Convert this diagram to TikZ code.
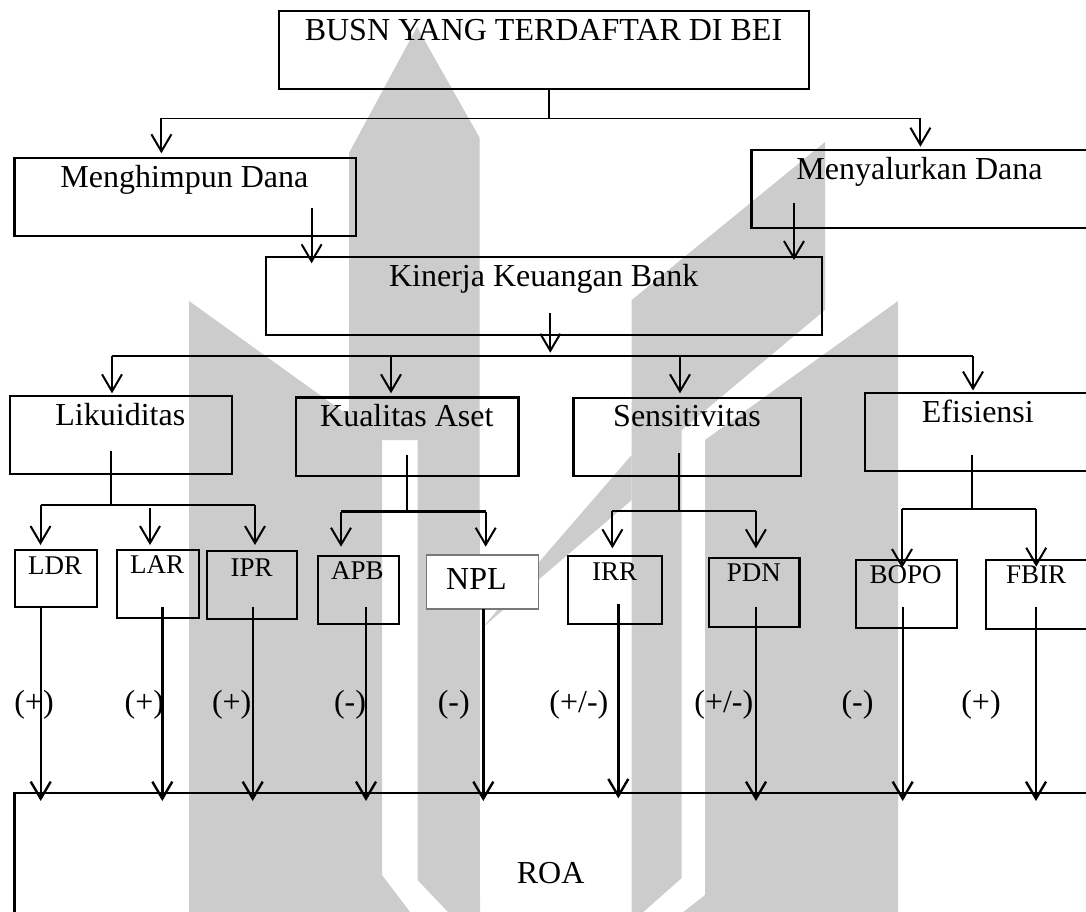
\documentclass[tikz,border=0pt]{standalone}
\usepackage{fontspec}
\setmainfont{Liberation Serif}
\usetikzlibrary{arrows.meta}
\definecolor{wm}{RGB}{204,204,204}
\definecolor{nplgray}{RGB}{120,120,120}
\tikzset{
  box/.style={draw=black, line width=2.2pt, anchor=north west, inner sep=0pt, outer sep=0pt},
  nplbox/.style={draw=nplgray, fill=white, line width=1.3pt, anchor=north west, inner sep=0pt, outer sep=0pt},
  lbl/.style={anchor=base, inner sep=0pt, font=\fontsize{32}{38}\selectfont},
  slbl/.style={anchor=base, inner sep=0pt, font=\fontsize{27}{32}\selectfont},
  arr/.style={line width=2pt, -{Straight Barb[length=17pt,width=20pt]}},
  conn/.style={line width=1.6pt},
  wmshape/.style={fill=wm, draw=none}
}
\begin{document}
\begin{tikzpicture}[x=1pt,y=-1pt]
\useasboundingbox (0,0) rectangle (1086,912);
\clip (0,0) rectangle (1086,912);
\fill[white] (0,0) rectangle (1086,912);
% watermark
\fill[wmshape] (417,27) -- (479.5,137.5) -- (480,912) -- (448,912) -- (417.6,880) -- (417.6,440)
  -- (382,440) -- (382,875) -- (410,912) -- (189,912) -- (189,301) -- (349,416) -- (349,153) -- cycle;
\fill[wmshape] (825,142) -- (825,310) -- (681.7,430) -- (681.7,878) -- (643.3,912) -- (631.7,912) -- (631.7,300) -- cycle;
\fill[wmshape] (898,301) -- (898,912) -- (683.3,912) -- (705,895) -- (705,440) -- cycle;
\fill[wmshape] (631.7,455) -- (631.7,500) -- (482,628) -- cycle;

% boxes
\node[box, minimum width=530pt, minimum height=78pt] (top) at (279,11) {};
\node[box, minimum width=341.5pt, minimum height=78.3pt] (mengh) at (14.5,157.7) {};
\node[box, minimum width=360pt, minimum height=78pt] (menya) at (751.5,150) {};
\node[box, minimum width=556pt, minimum height=78pt] (kin) at (266,256.7) {};
\node[box, minimum width=222pt, minimum height=78pt] (lik) at (9.7,395.7) {};
\node[box, minimum width=222.7pt, minimum height=78.3pt] (kual) at (295.7,397.5) {};
\node[box, minimum width=227.5pt, minimum height=78.3pt] (sens) at (573.5,397.7) {};
\node[box, minimum width=250pt, minimum height=77.7pt] (efi) at (865,393.3) {};
\node[box, minimum width=82.3pt, minimum height=56.7pt] (ldr) at (14.7,550) {};
\node[box, minimum width=82.3pt, minimum height=67.7pt] (lar) at (116.7,550) {};
\node[box, minimum width=90pt, minimum height=68.3pt] (ipr) at (206.7,551) {};
\node[box, minimum width=81pt, minimum height=68.3pt] (apb) at (318,555.7) {};
\node[nplbox, minimum width=111.8pt, minimum height=54pt] (npl) at (426.8,555) {};
\node[box, minimum width=94pt, minimum height=68.3pt] (irr) at (568,555.7) {};
\node[box, minimum width=90.5pt, minimum height=69pt] (pdn) at (709,557.7) {};
\node[box, minimum width=101pt, minimum height=68.3pt] (bopo) at (855.8,560) {};
\node[box, minimum width=150pt, minimum height=69pt] (fbir) at (985.7,560) {};
\node[box, minimum width=1100pt, minimum height=200pt] (roa) at (14.5,793.3) {};

% texts
\node[lbl] (ttop) at (543.5,40.7) {BUSN YANG TERDAFTAR DI BEI};
\node[lbl] (tmengh) at (184.4,187.5) {Menghimpun Dana};
\node[lbl] (tmenya) at (919.5,180) {Menyalurkan Dana};
\node[lbl] (tkin) at (543.7,286.7) {Kinerja Keuangan Bank};
\node[lbl] (tlik) at (120.3,425) {Likuiditas};
\node[lbl] (tkual) at (406.8,426.7) {Kualitas Aset};
\node[lbl] (tsens) at (687,426.7) {Sensitivitas};
\node[lbl] (tefi) at (977.8,422.7) {Efisiensi};
\node[slbl] (tldr) at (55.2,574) {LDR};
\node[slbl] (tlar) at (157.2,573.3) {LAR};
\node[slbl] (tipr) at (251.7,576) {IPR};
\node[slbl] (tapb) at (357.5,579.3) {APB};
\node[lbl] (tnpl) at (476.4,589.3) {NPL};
\node[slbl] (tirr) at (614.7,580) {IRR};
\node[slbl] (tpdn) at (753.8,581.7) {PDN};
\node[slbl] (tbopo) at (905.6,583.3) {BOPO};
\node[slbl] (tfbir) at (1036,583.3) {FBIR};
\node[lbl] (troa) at (550.6,883.3) {ROA};
\node[lbl] (s1) at (34,712.6) {(+)};
\node[lbl] (s2) at (144.3,712.6) {(+)};
\node[lbl] (s3) at (231.7,712.6) {(+)};
\node[lbl] (s4) at (350,712.6) {(-)};
\node[lbl] (s5) at (453.8,712.6) {(-)};
\node[lbl] (s6) at (578.9,712.6) {(+/-)};
\node[lbl] (s7) at (723.8,712.6) {(+/-)};
\node[lbl] (s8) at (857.5,712.6) {(-)};
\node[lbl] (s9) at (981,712.6) {(+)};

% connector coordinates
\coordinate (t1) at (549,89);
\coordinate (t2) at (549,118.5);
\coordinate (bl) at (161.4,118.5);
\coordinate (br) at (920.4,118.5);
\coordinate (bl2) at (161.4,153.3);
\coordinate (br2) at (920.4,146.7);
\coordinate (m1) at (311.6,208.3);
\coordinate (m2) at (311.6,263.3);
\coordinate (n1) at (794,203.3);
\coordinate (n2) at (794,260);
\coordinate (k1) at (550.3,313);
\coordinate (k2) at (550.3,352.7);
\coordinate (h1) at (112,355.7);
\coordinate (h2) at (391,355.7);
\coordinate (h3) at (680,355.7);
\coordinate (h4) at (973,355.7);
\coordinate (h1e) at (112,393.3);
\coordinate (h2e) at (391,393.3);
\coordinate (h3e) at (680,393.3);
\coordinate (h4e) at (973,390.5);
% Likuiditas
\coordinate (ls1) at (111,451);
\coordinate (ls2) at (111,505);
\coordinate (la) at (40.5,505);
\coordinate (lb) at (150,508.3);
\coordinate (lc) at (255,505);
\coordinate (lae) at (40.5,545);
\coordinate (lbe) at (150,545);
\coordinate (lce) at (255,545);
% Kualitas
\coordinate (qs1) at (406.7,455);
\coordinate (qs2) at (406.7,511.5);
\coordinate (qa) at (341,511.5);
\coordinate (qb) at (485.7,511.5);
\coordinate (qae) at (341,546.7);
\coordinate (qbe) at (485.7,546.7);
% Sensitivitas
\coordinate (ss1) at (679,453);
\coordinate (ss2) at (679,510.7);
\coordinate (sa) at (612.4,510.7);
\coordinate (sb) at (755.9,510.7);
\coordinate (sae) at (612.4,548.3);
\coordinate (sbe) at (755.9,548.3);
% Efisiensi
\coordinate (es1) at (971.8,455);
\coordinate (es2) at (971.8,509.3);
\coordinate (ea) at (902,509.3);
\coordinate (eb) at (1036.2,509.3);
\coordinate (eae) at (902,568);
\coordinate (ebe) at (1036.2,566.7);
% to ROA
\coordinate (r1a) at (40.7,606.7);   \coordinate (r1b) at (40.7,801);
\coordinate (r2a) at (162.3,607.3);  \coordinate (r2b) at (162.3,801);
\coordinate (r3a) at (252.7,607);    \coordinate (r3b) at (252.7,801);
\coordinate (r4a) at (366,607);      \coordinate (r4b) at (366,801);
\coordinate (r5a) at (483.3,609);    \coordinate (r5b) at (483.3,801);
\coordinate (r6a) at (618.3,604);    \coordinate (r6b) at (618.3,798.3);
\coordinate (r7a) at (756,607);      \coordinate (r7b) at (756,801);
\coordinate (r8a) at (902.7,607);    \coordinate (r8b) at (902.7,801);
\coordinate (r9a) at (1036,607);     \coordinate (r9b) at (1036,801);

% connectors
\draw[conn] (t1) -- (t2);
\draw[conn] (bl) -- (br);
\draw[arr] (bl) -- (bl2);
\draw[arr] (br) -- (br2);
\draw[arr] (m1) -- (m2);
\draw[arr] (n1) -- (n2);
\draw[arr] (k1) -- (k2);
\draw[conn] (h1) -- (h4);
\draw[arr] (h1) -- (h1e);
\draw[arr] (h2) -- (h2e);
\draw[arr] (h3) -- (h3e);
\draw[arr] (h4) -- (h4e);
\draw[conn] (ls1) -- (ls2);
\draw[conn] (la) -- (lc);
\draw[arr] (la) -- (lae);
\draw[arr] (lb) -- (lbe);
\draw[arr] (lc) -- (lce);
\draw[conn] (qs1) -- (qs2);
\draw[conn, line width=2.2pt] (qa) -- (qb);
\draw[arr] (qa) -- (qae);
\draw[arr] (qb) -- (qbe);
\draw[conn] (ss1) -- (ss2);
\draw[conn, line width=2pt] (sa) -- (sb);
\draw[arr] (sa) -- (sae);
\draw[arr] (sb) -- (sbe);
\draw[conn] (es1) -- (es2);
\draw[conn, line width=2pt] (ea) -- (eb);
\draw[arr] (ea) -- (eae);
\draw[arr] (eb) -- (ebe);
\foreach \i in {1,...,9} { \draw[arr, line width=2.4pt] (r\i a) -- (r\i b); }
\end{tikzpicture}
\end{document}
